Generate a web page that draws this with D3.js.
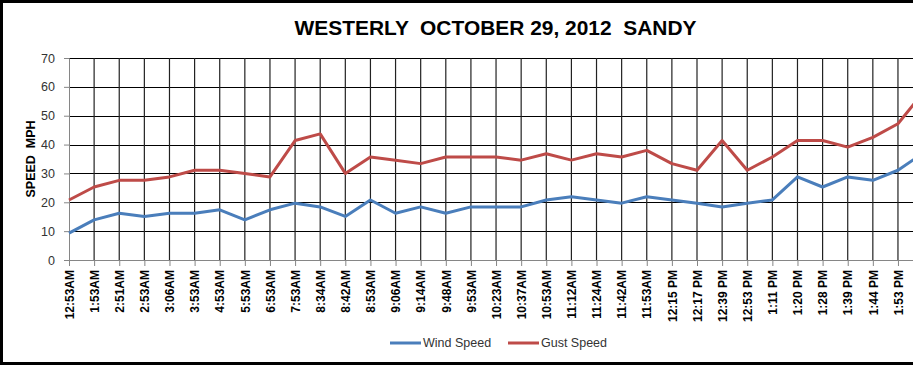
<!DOCTYPE html>
<html>
  <head>
    <style>
      body {
        margin: 0;
        background: #fff;
      }
      svg {
        display: block;
      }
      .tick-label {
        font-family: "Liberation Sans", Arial, sans-serif;
        font-size: 12px;
        font-weight: bold;
        fill: #000;
      }
    </style>
    <script src="https://d3js.org/d3.v7.min.js"></script>
  </head>
  <body>
    <div id="chart"></div>
  <script>
    // category labels (last one is past the right edge of the picture, cropped)
    var times = ["12:53AM", "1:53AM", "2:51AM", "2:53AM", "3:06AM", "3:53AM", "4:53AM", "5:53AM",
      "6:53AM", "7:53AM", "8:34AM", "8:42AM", "8:53AM", "9:06AM", "9:14AM", "9:48AM", "9:53AM",
      "10:23AM", "10:37AM", "10:53AM", "11:12AM", "11:24AM", "11:42AM", "11:53AM", "12:15 PM",
      "12:17 PM", "12:39 PM", "12:53 PM", "1:11 PM", "1:20 PM", "1:28 PM", "1:39 PM", "1:44 PM",
      "1:53 PM", ""];

    var windSpeed = [9.3, 13.9, 16.2, 15.1, 16.2, 16.2, 17.4, 13.9, 17.4, 19.7, 18.4, 15.1, 20.8,
      16.2, 18.4, 16.2, 18.4, 18.4, 18.4, 20.8, 21.9, 20.8, 19.7, 21.9, 20.8, 19.7, 18.4, 19.7,
      20.8, 28.8, 25.3, 28.8, 27.6, 31.1, 37.0];

    var gustSpeed = [20.8, 25.3, 27.6, 27.6, 28.8, 31.1, 31.1, 30.0, 28.8, 41.4, 43.7, 30.0, 35.7,
      34.6, 33.4, 35.7, 35.7, 35.7, 34.6, 36.8, 34.6, 36.8, 35.7, 38.0, 33.4, 31.1, 41.4, 31.1,
      35.7, 41.4, 41.4, 39.1, 42.5, 47.2, 58.0];

    var yTicks = [0, 10, 20, 30, 40, 50, 60, 70];

    var seriesNames = ["Wind Speed", "Gust Speed"];
    var seriesColors = ["#4a7ebb", "#be4b48"];

    var width = 913, height = 367;

    var svg = d3.select("#chart")
      .append("svg")
      .attr("width", width)
      .attr("height", height);

    var x = d3.scalePoint()
      .domain(d3.range(times.length))
      .range([69, 69 + (times.length - 1) * 25.12]); // plot runs off the right edge

    var y = d3.scaleLinear()
      .domain([0, 70])
      .range([260, 58]);

    // outer frame
    svg.append("rect")
      .attr("x", 1.5)
      .attr("y", 1.5)
      .attr("width", 960)
      .attr("height", 362)
      .attr("fill", "#fff")
      .attr("stroke", "#000")
      .attr("stroke-width", 3);

    // title
    svg.append("text")
      .attr("x", 495.5)
      .attr("y", 35)
      .attr("text-anchor", "middle")
      .attr("textLength", 402)
      .attr("lengthAdjust", "spacingAndGlyphs")
      .style("font-family", "'Liberation Sans Narrow', 'Liberation Sans', Arial, sans-serif")
      .style("font-size", "21px")
      .style("font-weight", "bold")
      .style("white-space", "pre")
      .text("WESTERLY  OCTOBER 29, 2012  SANDY");

    // horizontal gridlines
    svg.append("g")
      .selectAll("line")
      .data(yTicks.slice(1))
      .enter()
      .append("line")
      .attr("x1", 69)
      .attr("x2", 960)
      .attr("y1", function(d) { return Math.round(y(d)) + 0.5; })
      .attr("y2", function(d) { return Math.round(y(d)) + 0.5; })
      .attr("stroke", "#000")
      .attr("stroke-width", 1);

    // vertical gridlines
    svg.append("g")
      .selectAll("line")
      .data(d3.range(1, times.length))
      .enter()
      .append("line")
      .attr("x1", function(d) { return x(d); })
      .attr("x2", function(d) { return x(d); })
      .attr("y1", y(70))
      .attr("y2", y(0))
      .attr("stroke", "#222")
      .attr("stroke-width", 1.2);

    // y axis
    var yAxis = svg.append("g")
      .attr("transform", "translate(69,0)")
      .call(d3.axisLeft(y).tickValues(yTicks).tickSize(5).tickPadding(9));
    yAxis.select(".domain").attr("stroke", "#868686");
    yAxis.selectAll(".tick line").attr("stroke", "#868686");
    yAxis.selectAll("text")
      .style("font-family", "'Liberation Sans', Arial, sans-serif")
      .style("font-size", "12.5px")
      .attr("fill", "#333");

    // x axis
    var xAxis = svg.append("g")
      .attr("transform", "translate(0,260)")
      .call(d3.axisBottom(x).tickSize(6).tickFormat(function(i) { return times[i]; }));
    xAxis.select(".domain").attr("stroke", "#868686");
    xAxis.selectAll(".tick line").attr("stroke", "#868686");
    xAxis.selectAll("text")
      .attr("class", "tick-label")
      .attr("transform", "rotate(-90)")
      .attr("x", -10)
      .attr("y", 0)
      .attr("dy", "0.35em")
      .attr("text-anchor", "end");

    // y axis title
    svg.append("text")
      .attr("transform", "translate(35,159) rotate(-90)")
      .attr("text-anchor", "middle")
      .style("font-family", "'Liberation Sans', Arial, sans-serif")
      .style("font-size", "12.5px")
      .style("font-weight", "bold")
      .style("white-space", "pre")
      .text("SPEED  MPH");

    // lines
    var line = d3.line()
      .x(function(d, i) { return x(i); })
      .y(function(d) { return y(d); });

    [windSpeed, gustSpeed].forEach(function(s, k) {
      svg.append("path")
        .datum(s)
        .attr("d", line)
        .attr("fill", "none")
        .attr("stroke", seriesColors[k])
        .attr("stroke-width", 3)
        .attr("stroke-linejoin", "round");
    });

    // legend
    var legendX = [390, 508];
    seriesNames.forEach(function(name, k) {
      var g = svg.append("g").attr("transform", "translate(" + legendX[k] + ",343)");
      g.append("line")
        .attr("x1", 0)
        .attr("x2", 31)
        .attr("stroke", seriesColors[k])
        .attr("stroke-width", 3);
      g.append("text")
        .attr("x", 33)
        .attr("dy", "0.35em")
        .style("font-family", "'Liberation Sans', Arial, sans-serif")
        .style("font-size", "12.5px")
        .attr("fill", "#333")
        .text(name);
    });
  </script>
  </body>
</html>
